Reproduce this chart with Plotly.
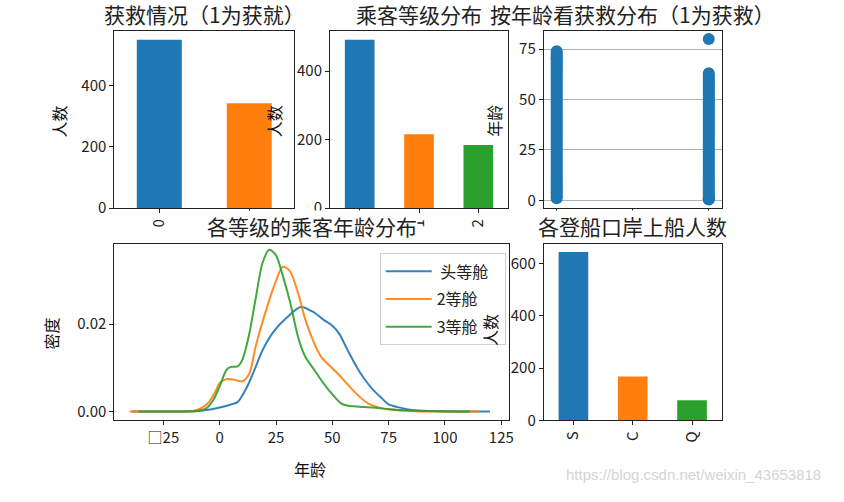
import plotly.graph_objects as go

W, H = 844, 502
FONT = "Noto Sans CJK SC"
BLUE, ORANGE, GREEN = "#1f77b4", "#ff7f0e", "#2ca02c"

# ---- data ----
survived_labels = ["0", "1"]
survived_counts = [549, 342]

pclass_labels = ["3", "1", "2"]
pclass_counts = [491, 216, 184]

embark_labels = ["S", "C", "Q"]
embark_counts = [644, 168, 77]

ages_died = [1, 2, 3, 4, 5, 6, 7, 8, 9, 10, 11, 12, 13, 14, 15, 16, 17, 18, 19, 20, 21, 22, 23,
             24, 25, 26, 27, 28, 29, 30, 31, 32, 33, 34, 35, 36, 37, 38, 39, 40, 41, 42, 43, 44,
             45, 46, 47, 48, 49, 50, 51, 52, 53, 54, 55, 56, 57, 58, 59, 60, 61, 62, 63, 64, 65,
             66, 67, 68, 69, 70, 70.5, 71, 72, 73, 74]
ages_survived = [0.42, 0.67, 0.83, 1, 2, 3, 4, 5, 6, 7, 8, 9, 10, 11, 12, 13, 14, 15, 16, 17,
                 18, 19, 20, 21, 22, 23, 24, 25, 26, 27, 28, 29, 30, 31, 32, 33, 34, 35, 36, 37,
                 38, 39, 40, 41, 42, 43, 44, 45, 46, 47, 48, 49, 50, 51, 52, 53, 54, 55, 56, 57,
                 58, 59, 60, 61, 62, 63, 80]

kde_first_x = [-39, -20, -10, -5, 0, 5, 8, 12, 15, 19, 24, 30, 36, 42, 46, 50, 53, 57, 61, 64,
               68, 72, 75, 79, 86, 95, 105, 120]
kde_first_y = [0.0, 0.0, 0.0001, 0.0004, 0.0009, 0.0016, 0.0022, 0.0055, 0.0090, 0.0140, 0.0183,
               0.0216, 0.0239, 0.0226, 0.0210, 0.0196, 0.0178, 0.0138, 0.0100, 0.0076, 0.0050,
               0.0030, 0.0016, 0.0010, 0.0003, 0.0001, 0.0, 0.0]

kde_second_x = [-40, -20, -12, -8, -5, -2, 0, 3, 6, 10, 13, 16, 20, 24, 28, 31, 35, 38, 42, 45,
                50, 54, 58, 62, 66, 70, 75, 80, 90, 115]
kde_second_y = [0.0, 0.0, 0.0001, 0.0008, 0.0020, 0.0045, 0.0065, 0.0074, 0.0073, 0.0069, 0.0085,
                0.0150, 0.0222, 0.0285, 0.0331, 0.0322, 0.0267, 0.0210, 0.0155, 0.0125, 0.0099,
                0.0078, 0.0055, 0.0034, 0.0018, 0.0010, 0.0005, 0.0002, 0.0, 0.0]

kde_third_x = [-36, -20, -10, -6, -3, 0, 3, 5, 8, 10, 13, 16, 19, 22, 25, 28, 31, 35, 38, 42,
               46, 50, 54, 57, 62, 68, 75, 85, 100, 111]
kde_third_y = [0.0, 0.0, 0.0001, 0.0007, 0.0025, 0.0058, 0.0095, 0.0102, 0.0103, 0.0118, 0.0175,
               0.0260, 0.0340, 0.0370, 0.0357, 0.0310, 0.0255, 0.0166, 0.0125, 0.0095, 0.0065,
               0.0039, 0.0018, 0.0013, 0.0011, 0.0009, 0.0005, 0.0002, 0.0, 0.0]

NB = "\u00a0"
kde_names = [NB + "头等舱", "2等舱", "3等舱"]
kde_ticks = [-25, 0, 25, 50, 75, 100, 125]
kde_ticktext = ["□25", "0", "25", "50", "75", "100", "125"]


def fx(p):
    return p / W


def fy(p):
    return 1 - p / H


fig = go.Figure()

boxes = {
    1: (115, 296, 32, 212),
    2: (332, 511, 32, 212),
    3: (547, 726, 32, 212),
    4: (115, 512, 248, 428),
    5: (547, 726, 248, 428),
}

tickfont = dict(family=FONT, size=15, color="#222")
axis_common = dict(showline=True, mirror=True, linecolor="#222", linewidth=1,
                   ticks="outside", ticklen=4, tickcolor="#222", tickwidth=1,
                   tickfont=tickfont, zeroline=False, showgrid=False)

layout = {}
for i, (x0, x1, y0, y1) in boxes.items():
    xa = "xaxis" if i == 1 else f"xaxis{i}"
    ya = "yaxis" if i == 1 else f"yaxis{i}"
    layout[xa] = dict(domain=[fx(x0), fx(x1)], anchor=f"y{'' if i == 1 else i}", **axis_common)
    layout[ya] = dict(domain=[fy(y1), fy(y0)], anchor=f"x{'' if i == 1 else i}", **axis_common)

# panel 1: survived
fig.add_trace(go.Bar(x=[0, 1], y=survived_counts, width=0.5, marker_color=[BLUE, ORANGE],
                     marker_line_width=0, xaxis="x", yaxis="y", showlegend=False))
layout["xaxis"].update(range=[-0.5, 1.5], tickmode="array", tickvals=[0, 1],
                       ticktext=survived_labels, tickangle=-90)
layout["yaxis"].update(range=[0, max(survived_counts) * 1.05], tickvals=[0, 200, 400])

# panel 2: pclass
fig.add_trace(go.Bar(x=[0, 1, 2], y=pclass_counts, width=0.5, marker_color=[BLUE, ORANGE, GREEN],
                     marker_line_width=0, xaxis="x2", yaxis="y2", showlegend=False))
layout["xaxis2"].update(range=[-0.5, 2.5], tickmode="array", tickvals=[0, 1, 2],
                        ticktext=pclass_labels, tickangle=-90)
layout["yaxis2"].update(range=[0, max(pclass_counts) * 1.05], tickvals=[0, 200, 400])

# panel 3: scatter
fig.add_trace(go.Scatter(x=[0] * len(ages_died) + [1] * len(ages_survived),
                         y=ages_died + ages_survived, mode="markers",
                         marker=dict(color=BLUE, size=12, line_width=0),
                         xaxis="x3", yaxis="y3", showlegend=False))
layout["xaxis3"].update(range=[-0.085, 1.085], tickvals=[0, 0.5, 1],
                        ticktext=["0.0", "0.5", "1.0"])
layout["yaxis3"].update(range=[-3.9, 83.8], tickvals=[0, 25, 50, 75], showgrid=True,
                        gridcolor="#b0b0b0", gridwidth=1)

# panel 4: kde
for nm, xs, ys, col, grp in [(kde_names[0], kde_first_x, kde_first_y, BLUE, "a"),
                             (kde_names[1], kde_second_x, kde_second_y, ORANGE, "b"),
                             (kde_names[2], kde_third_x, kde_third_y, GREEN, "c")]:
    fig.add_trace(go.Scatter(x=xs, y=ys, mode="lines", name=nm + NB * 3, legendgroup=grp,
                             line=dict(color=col, width=2, shape="spline", smoothing=0.8),
                             opacity=0.9, xaxis="x4", yaxis="y4"))
layout["xaxis4"].update(range=[-46.8, 128.4], tickvals=kde_ticks, ticktext=kde_ticktext)
layout["yaxis4"].update(range=[-0.00202, 0.0384], tickvals=[0, 0.02],
                        ticktext=["0.00", "0.02"])

# panel 5: embarked
fig.add_trace(go.Bar(x=[0, 1, 2], y=embark_counts, width=0.5, marker_color=[BLUE, ORANGE, GREEN],
                     marker_line_width=0, xaxis="x5", yaxis="y5", showlegend=False))
layout["xaxis5"].update(range=[-0.5, 2.5], tickmode="array", tickvals=[0, 1, 2],
                        ticktext=embark_labels, tickangle=-90)
layout["yaxis5"].update(range=[0, max(embark_counts) * 1.05], tickvals=[0, 200, 400, 600])

annotations = []


def ann(text, px, py, size, angle=0, color="#111", family=FONT, bg=None):
    d = dict(text=text, x=fx(px), y=fy(py), xref="paper", yref="paper",
             showarrow=False, xanchor="center", yanchor="middle",
             textangle=angle, font=dict(family=family, size=size, color=color))
    if bg:
        d["bgcolor"] = bg
        d["borderpad"] = 0
    annotations.append(d)


# titles
ann("获救情况（1为获就）", 205.5, 14, 21, color="#222")
ann("乘客等级分布", 421.5, 14, 21, color="#222")
ann("按年龄看获救分布（1为获救）", 636.5, 14, 21, color="#222")
ann("各等级的乘客年龄分布", 313.5, 230, 21, color="#222", bg="white")
ann("各登船口岸上船人数", 636.5, 230, 21, color="#222", bg="white")
# axis labels
ann("人数", 59, 124, 16, -90)
ann("人数", 275, 123, 16, -90)
ann("年龄", 497, 123, 16, -90)
ann("密度", 51, 340, 16, -90)
ann("年龄", 312, 478, 16)
ann("人数", 493, 336, 16, -90)
# watermark
ann("https://blog.csdn.net/weixin_43653818", 698, 483, 15, 0, "#d4d4d4", "Liberation Sans")

fig.update_layout(
    width=W, height=H, margin=dict(l=0, r=0, t=0, b=0),
    paper_bgcolor="white", plot_bgcolor="white",
    annotations=annotations,
    legend=dict(x=fx(382), y=fy(258), xanchor="left", yanchor="top", itemwidth=46,
                bgcolor="rgba(255,255,255,0.8)", bordercolor="#d0d0d0", borderwidth=1,
                font=dict(family=FONT, size=16, color="#222"), tracegroupgap=4),
    **layout,
)

fig.write_html("out.html")
